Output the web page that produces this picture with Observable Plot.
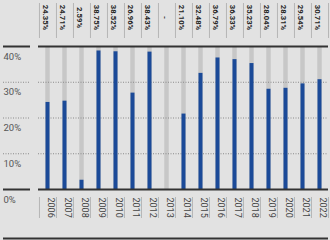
<!DOCTYPE html>
<html><head><meta charset="utf-8">
<script src="https://cdn.jsdelivr.net/npm/d3@7"></script>
<script src="https://cdn.jsdelivr.net/npm/@observablehq/plot@0.6"></script>
<style>
html,body{margin:0;padding:0;background:#e2e2e2;}
#chart svg{display:block;}
</style></head><body><div id="chart"></div>
<script>
const years = ["2006","2007","2008","2009","2010","2011","2012","2013","2014","2015","2016","2017","2018","2019","2020","2021","2022"];
const values = [24.35, 24.71, 2.59, 38.75, 38.52, 26.96, 38.43, null, 21.10, 32.48, 36.79, 36.33, 35.23, 28.04, 28.31, 29.54, 30.71];
const labels = ["24.35%","24.71%","2.59%","38.75%","38.52%","26.96%","38.43%","-","21.10%","32.48%","36.79%","36.33%","35.23%","28.04%","28.31%","29.54%","30.71%"];
const yTicks = [0, 10, 20, 30, 40];
const yDotted = [10, 20, 30];
const ySolid = [0, 40];
const yMax = 40;

const data = years.map((year, i) => ({year, value: values[i], label: labels[i]}));

const chart = Plot.plot({
  width: 330, height: 240,
  marginTop: 46, marginBottom: 51, marginLeft: 38, marginRight: 2,
  style: {background: "transparent", fontFamily: "Roboto, sans-serif", overflow: "visible"},
  x: {domain: years, padding: 0, axis: null},
  y: {domain: [0, yMax], axis: null},
  marks: [
    Plot.barY(data, {x: "year", y: d => yMax, fill: "#c7c7c7", insetLeft: 6.3, insetRight: 6.3}),
    Plot.ruleY(yDotted, {y: d => d, stroke: "#8a8a8a", strokeDasharray: "1,1.5"}),
    Plot.ruleY(yDotted, {y: d => d, stroke: "#8a8a8a", strokeDasharray: "1,1.5", insetLeft: -35, insetRight: 298}),
    Plot.barY(data.filter(d => d.value != null), {x: "year", y: "value", fill: "#1b4a98", insetLeft: 6.5, insetRight: 6.5}),
    Plot.ruleY(ySolid, {y: d => d, stroke: "#333", strokeWidth: 2}),
    Plot.ruleY(ySolid, {y: d => d, stroke: "#333", strokeWidth: 2, insetLeft: -35, insetRight: 298}),
    Plot.text(yTicks, {y: d => d, text: d => d + "%", frameAnchor: "left", dx: -35, dy: 10, textAnchor: "start", fontSize: 9.5, fill: "#555"}),
    Plot.ruleX(years, {x: d => d, dx: -8.53, insetTop: -43, insetBottom: 151, stroke: "#b5b5b5"}),
    Plot.ruleX(years.slice(-1), {x: d => d, dx: 8.53, insetTop: -43, insetBottom: 151, stroke: "#b5b5b5"}),
    Plot.text(data, {x: "year", text: "label", frameAnchor: "top", dy: -29, rotate: 90, textAnchor: "middle", fontWeight: "bold", fontSize: 7.7, fill: "#222"}),
    Plot.ruleX(years, {x: d => d, dx: -8.53, insetTop: 151, insetBottom: -29, stroke: "#b5b5b5"}),
    Plot.ruleX(years.slice(-1), {x: d => d, dx: 8.53, insetTop: 151, insetBottom: -29, stroke: "#b5b5b5"}),
    Plot.text(data, {x: "year", text: "year", frameAnchor: "bottom", dy: 8, rotate: 90, textAnchor: "start", fontSize: 9, fill: "#444"}),
    Plot.ruleY([0], {y: d => d, dy: 49, stroke: "#333", strokeWidth: 2, insetLeft: -35})
  ]
});
document.getElementById("chart").append(chart);
</script>
</body></html>
